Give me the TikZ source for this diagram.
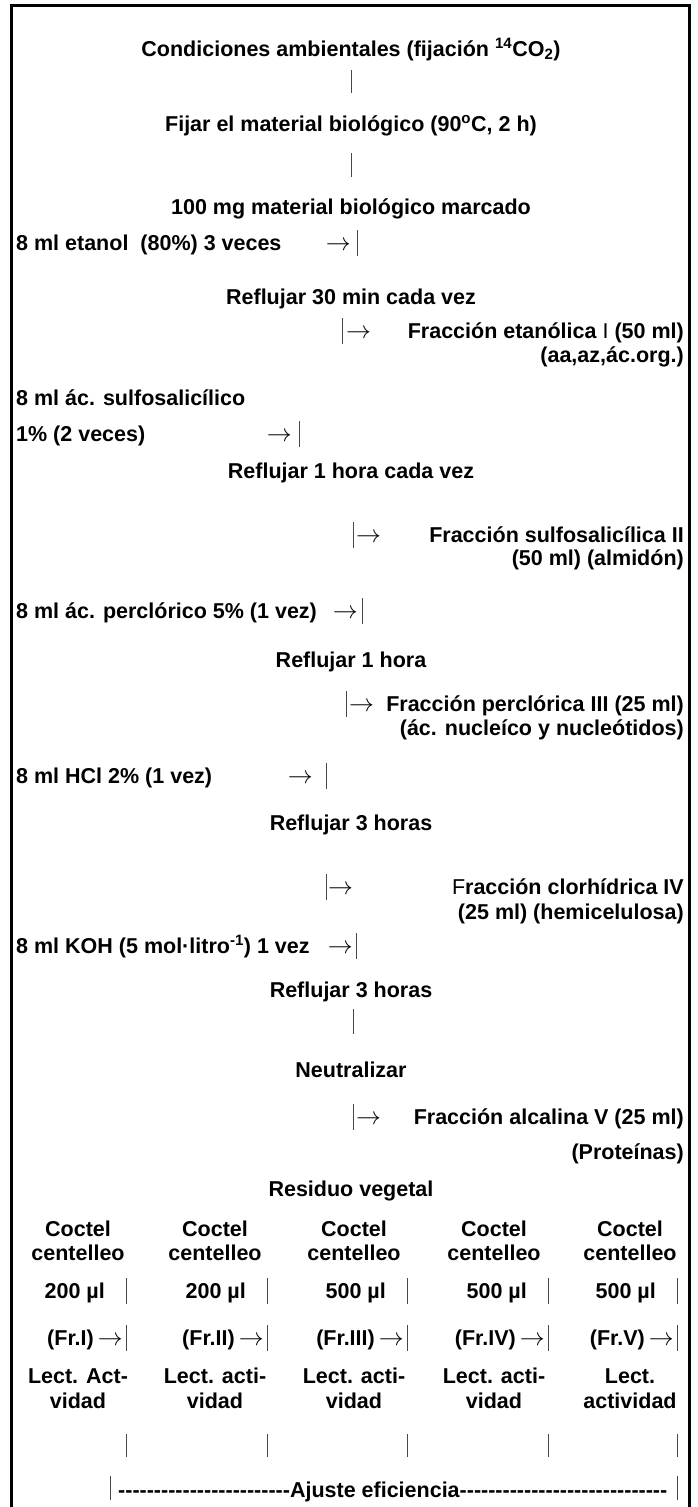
\documentclass[tikz,border=0pt]{standalone}
\usepackage{fontspec}
\setmainfont{Liberation Sans}
\tikzset{
  t/.style={font=\fontsize{21.5}{24}\selectfont\bfseries, inner sep=0pt, anchor=base},
  tl/.style={t, anchor=base west},
  tr/.style={t, anchor=base east},
  ar/.style={font=\fontsize{26}{26}\selectfont, inner sep=0pt, anchor=base},
  arl/.style={ar, anchor=base west},
  arr/.style={ar, anchor=base east},
  bar/.style={line width=0.85pt, black!72},
  frame/.style={line width=2.8pt, line cap=rect}
}
\newcommand{\arw}{$\rightarrow$}
\newcommand{\dashes}[1]{\foreach \k in {1,...,#1}{-}}
\begin{document}
\begin{tikzpicture}[x=1pt,y=-1pt]
\useasboundingbox (0,0) rectangle (698,1507);
\draw[frame] (11.5,1512) -- (11.5,5.5) -- (689.5,5.5) -- (689.5,1512);

% top chain
\node[t] (cond) at (351,56) {Condiciones ambientales (fijación \textsuperscript{14}CO\textsubscript{2})};
\coordinate (l1a) at (351,70); \coordinate (l1b) at (351,93);
\draw[bar] (l1a) -- (l1b);
\node[t] (fijar) at (351,131) {Fijar el material biológico (90\textsuperscript{o}C, 2 h)};
\coordinate (l2a) at (351,153); \coordinate (l2b) at (351,177);
\draw[bar] (l2a) -- (l2b);
\node[t] (mat) at (351,214) {100 mg material biológico marcado};

% etanol
\node[tl] (etanol) at (16,250) {8 ml etanol\ \ (80\%) 3 veces};
\node[arr] (etarr) at (351,250) {\arw};
\coordinate (b1a) at (357,230); \coordinate (b1b) at (357,256);
\draw[bar] (b1a) -- (b1b);
\node[t] (ref1) at (351,304) {Reflujar 30 min cada vez};
\coordinate (b2a) at (342,318); \coordinate (b2b) at (342,344);
\draw[bar] (b2a) -- (b2b);
\node[arl] (fr1arr) at (346,338) {\arw};
\node[tr] (fr1) at (684,338) {Fracción etanólica {\mdseries I} (50 ml)};
\node[tr] (fr1b) at (684,362) {(aa,az,ác.org.)};

% sulfosalicilico
\node[tl] (sulf) at (16,405) {8 ml ác. sulfosalicílico};
\node[tl] (sulfb) at (16,441) {1\% (2 veces)};
\node[arr] (sularr) at (292,441) {\arw};
\coordinate (b3a) at (299,421); \coordinate (b3b) at (299,447);
\draw[bar] (b3a) -- (b3b);
\node[t] (ref2) at (351,478) {Reflujar 1 hora cada vez};
\coordinate (b4a) at (353,522); \coordinate (b4b) at (353,548);
\draw[bar] (b4a) -- (b4b);
\node[arl] (fr2arr) at (356,542) {\arw};
\node[tr] (fr2) at (684,542) {Fracción sulfosalicílica II};
\node[tr] (fr2b) at (684,565) {(50 ml) (almidón)};

% perclorico
\node[tl] (perc) at (16,618) {8 ml ác. perclórico 5\% (1 vez)};
\node[arr] (percarr) at (358,618) {\arw};
\coordinate (b5a) at (362,598); \coordinate (b5b) at (362,624);
\draw[bar] (b5a) -- (b5b);
\node[t] (ref3) at (351,667) {Reflujar 1 hora};
\coordinate (b6a) at (346,691); \coordinate (b6b) at (346,717);
\draw[bar] (b6a) -- (b6b);
\node[arl] (fr3arr) at (349,711) {\arw};
\node[tr] (fr3) at (684,711) {Fracción perclórica III (25 ml)};
\node[tr] (fr3b) at (684,735) {(ác. nucleíco y nucleótidos)};

% HCl
\node[tl] (hcl) at (16,783) {8 ml HCl 2\% (1 vez)};
\node[arr] (hclarr) at (313,783) {\arw};
\coordinate (b7a) at (326,763); \coordinate (b7b) at (326,789);
\draw[bar] (b7a) -- (b7b);
\node[t] (ref4) at (351,830) {Reflujar 3 horas};
\coordinate (b8a) at (326,874); \coordinate (b8b) at (326,900);
\draw[bar] (b8a) -- (b8b);
\node[arl] (fr4arr) at (328,894) {\arw};
\node[tr] (fr4) at (684,894) {{\mdseries F}racción clorhídrica IV};
\node[tr] (fr4b) at (684,919) {(25 ml) (hemicelulosa)};

% KOH
\node[tl] (koh) at (16,953) {8 ml KOH (5 mol·litro\textsuperscript{-1}) 1 vez};
\node[arr] (koharr) at (353,953) {\arw};
\coordinate (b9a) at (356,933); \coordinate (b9b) at (356,959);
\draw[bar] (b9a) -- (b9b);
\node[t] (ref5) at (351,997) {Reflujar 3 horas};
\coordinate (l3a) at (353,1009); \coordinate (l3b) at (353,1034);
\draw[bar] (l3a) -- (l3b);
\node[t] (neut) at (351,1077) {Neutralizar};
\coordinate (b10a) at (353,1104); \coordinate (b10b) at (353,1130);
\draw[bar] (b10a) -- (b10b);
\node[arl] (fr5arr) at (356,1124) {\arw};
\node[tr] (fr5) at (684,1124) {Fracción alcalina V (25 ml)};
\node[tr] (fr5b) at (684,1159) {(Proteínas)};

\node[t] (res) at (351,1196) {Residuo vegetal};

% columns
\foreach \i/\c/\b/\v/\f/\la/\lb in {
  1/78/126/200 µl/(Fr.I)/Lect. Act-/vidad,
  2/215/267/200 µl/(Fr.II)/Lect. acti-/vidad,
  3/354/407/500 µl/(Fr.III)/Lect. acti-/vidad,
  4/494/548/500 µl/(Fr.IV)/Lect. acti-/vidad,
  5/630/677/500 µl/(Fr.V)/Lect./actividad}{
  \node[t] (coc\i) at (\c,1236) {Coctel};
  \node[t] (cen\i) at (\c,1260) {centelleo};
  \node[tr] (vol\i) at (\b-21,1298) {\v};
  \coordinate (vb\i a) at (\b,1278); \coordinate (vb\i b) at (\b,1304);
  \draw[bar] (vb\i a) -- (vb\i b);
  \node[tr] (fr\i) at (\b-32,1345) {\f};
  \node[arr] (fa\i) at (\b-3,1345) {\arw};
  \coordinate (fb\i a) at (\b,1325); \coordinate (fb\i b) at (\b,1351);
  \draw[bar] (fb\i a) -- (fb\i b);
  \node[t] (lec\i) at (\c,1383) {\la};
  \node[t] (vid\i) at (\c,1408) {\lb};
  \coordinate (lv\i a) at (\b,1434); \coordinate (lv\i b) at (\b,1457);
  \draw[bar] (lv\i a) -- (lv\i b);
}

% ajuste
\coordinate (aja) at (110,1476); \coordinate (ajb) at (110,1500);
\draw[bar] (aja) -- (ajb);
\coordinate (ajc) at (677,1476); \coordinate (ajd) at (677,1500);
\draw[bar] (ajc) -- (ajd);
\node[tl] (aj) at (118,1497) {\dashes{24}Ajuste eficiencia\dashes{29}};
\end{tikzpicture}
\end{document}
